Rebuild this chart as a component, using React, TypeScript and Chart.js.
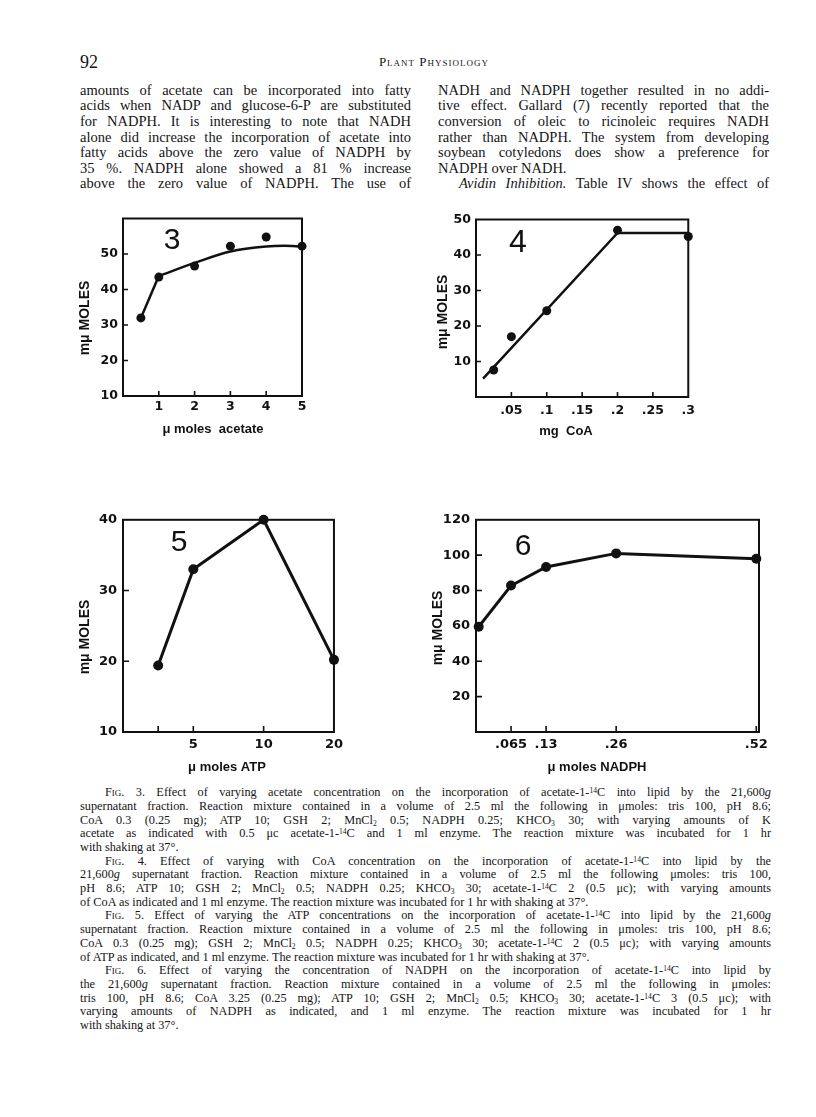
import React, { useEffect, useRef } from "react";
import { Chart, registerables } from "chart.js";

Chart.register(...registerables);

// ---------- Fig. 3 : acetate ----------
const acetateAmounts = [0.5, 1, 2, 3, 4, 5];
const acetateMuMoles = [32, 43.5, 46.6, 52.2, 54.8, 52.2];
const acetateSegX = [0.5, 1];
const acetateSegY = [32, 43.8];
const acetateCurveX = [1, 2, 3, 4, 4.5, 5];
const acetateCurveY = [43.8, 47.5, 50.7, 52.1, 52.3, 52.1];
const acetateXTicks = [1, 2, 3, 4, 5];
const acetateXLabels = ["1", "2", "3", "4", "5"];
const acetateYTicks = [10, 20, 30, 40, 50];
const acetateYLabels = ["10", "20", "30", "40", "50"];

// ---------- Fig. 4 : CoA ----------
const coaAmounts = [0.025, 0.05, 0.1, 0.2, 0.3];
const coaMuMoles = [7.6, 17, 24.3, 47, 45.2];
const coaFitX = [0.01, 0.2, 0.3];
const coaFitY = [5.2, 46.2, 46.2];
const coaXTicks = [0.05, 0.1, 0.15, 0.2, 0.25, 0.3];
const coaXLabels = [".05", ".1", ".15", ".2", ".25", ".3"];
const coaYTicks = [10, 20, 30, 40, 50];
const coaYLabels = ["10", "20", "30", "40", "50"];

// ---------- Fig. 5 : ATP (hand-drawn, non-linear axis positions) ----------
const atpAxisPos = [1, 2, 4, 6];
const atpTickLabels = ["", "5", "10", "20"];
const atpMuMoles = [19.4, 33, 40, 20.2];
const atpYTicks = [10, 20, 30, 40];
const atpYLabels = ["10", "20", "30", "40"];

// ---------- Fig. 6 : NADPH ----------
const nadphAmounts = [0.005, 0.065, 0.13, 0.26, 0.52];
const nadphMuMoles = [59.5, 82.8, 93.3, 101, 98];
const nadphXTicks = [0.065, 0.13, 0.26, 0.52];
const nadphXLabels = [".065", ".13", ".26", ".52"];
const nadphYTicks = [20, 40, 60, 80, 100, 120];
const nadphYLabels = ["20", "40", "60", "80", "100", "120"];

const INK = "#111";

type Txt = { text: string; x: number; y: number; font: string; rotate?: boolean };
type PanelCfg = {
  left: number; top: number; width: number; height: number;
  yAxisW: number; xAxisH: number; padTop: number; padRight: number;
  xMin: number; xMax: number; yMin: number; yMax: number;
  xTicks: number[]; xLabels: string[]; yTicks: number[]; yLabels: string[];
  xPad: number; yPad: number; tickWeight: string; tickSize: number;
  datasets: any[]; texts: Txt[]; tickLen: number; lineFrame: number;
};

function makeFramePlugin(cfg: PanelCfg) {
  return {
    id: "frameAndLabels",
    afterDatasetsDraw(chart: any) {
      const { ctx, chartArea: a } = chart;
      ctx.save();
      ctx.strokeStyle = INK;
      ctx.lineWidth = cfg.lineFrame;
      ctx.strokeRect(a.left, a.top, a.right - a.left, a.bottom - a.top);
      ctx.lineWidth = 1.6;
      ctx.beginPath();
      const xs = chart.scales.x;
      const ys = chart.scales.y;
      xs.ticks.forEach((t: any) => {
        const p = xs.getPixelForValue(t.value);
        if (p <= a.left + 1 || p >= a.right - 1) return;
        ctx.moveTo(p, a.bottom);
        ctx.lineTo(p, a.bottom - cfg.tickLen);
      });
      ys.ticks.forEach((t: any) => {
        const p = ys.getPixelForValue(t.value);
        if (p <= a.top + 1 || p >= a.bottom - 1) return;
        ctx.moveTo(a.left, p);
        ctx.lineTo(a.left + cfg.tickLen, p);
      });
      ctx.stroke();
      cfg.texts.forEach((t) => {
        ctx.save();
        ctx.fillStyle = INK;
        ctx.font = t.font;
        ctx.textAlign = "center";
        ctx.textBaseline = "middle";
        ctx.translate(t.x - cfg.left, t.y - cfg.top);
        if (t.rotate) ctx.rotate(-Math.PI / 2);
        ctx.fillText(t.text, 0, 0);
        ctx.restore();
      });
      ctx.restore();
    },
  };
}

function Panel({ cfg }: { cfg: PanelCfg }) {
  const ref = useRef<HTMLCanvasElement>(null);
  useEffect(() => {
    const tickFont = { family: "DejaVu Sans", size: cfg.tickSize, weight: cfg.tickWeight as any };
    const chart = new Chart(ref.current as HTMLCanvasElement, {
      type: "scatter",
      data: { datasets: cfg.datasets },
      options: {
        animation: false,
        responsive: false,
        devicePixelRatio: 1,
        layout: { padding: { top: cfg.padTop, right: cfg.padRight, left: 0, bottom: 0 } },
        plugins: { legend: { display: false }, tooltip: { enabled: false } },
        scales: {
          x: {
            type: "linear",
            min: cfg.xMin,
            max: cfg.xMax,
            grid: { display: false, drawTicks: false },
            border: { display: false },
            afterBuildTicks: (s: any) => {
              s.ticks = cfg.xTicks.map((v) => ({ value: v }));
            },
            afterFit: (s: any) => {
              s.height = cfg.xAxisH;
            },
            ticks: {
              padding: cfg.xPad,
              color: INK,
              font: tickFont,
              maxRotation: 0,
              autoSkip: false,
              callback: (_v: any, i: number) => cfg.xLabels[i],
            },
          },
          y: {
            type: "linear",
            min: cfg.yMin,
            max: cfg.yMax,
            grid: { display: false, drawTicks: false },
            border: { display: false },
            afterBuildTicks: (s: any) => {
              s.ticks = cfg.yTicks.map((v) => ({ value: v }));
            },
            afterFit: (s: any) => {
              s.width = cfg.yAxisW;
            },
            ticks: {
              padding: cfg.yPad,
              color: INK,
              font: tickFont,
              autoSkip: false,
              callback: (_v: any, i: number) => cfg.yLabels[i],
            },
          },
        },
      } as any,
      plugins: [makeFramePlugin(cfg)],
    });
    return () => chart.destroy();
  }, []);
  return (
    <canvas
      ref={ref}
      width={cfg.width}
      height={cfg.height}
      style={{ position: "absolute", left: cfg.left, top: cfg.top, width: cfg.width, height: cfg.height }}
    />
  );
}

const pts = (xs: number[], ys: number[]) => xs.map((x, i) => ({ x, y: ys[i] }));

const dotSet = (xs: number[], ys: number[], r: number) => ({
  data: pts(xs, ys),
  showLine: false,
  pointRadius: r,
  pointBackgroundColor: INK,
  pointBorderWidth: 0,
  clip: false,
});
const lineSet = (xs: number[], ys: number[], w: number, mono = false) => ({
  data: pts(xs, ys),
  showLine: true,
  borderColor: INK,
  borderWidth: w,
  pointRadius: 0,
  cubicInterpolationMode: mono ? "monotone" : "default",
  clip: false,
});
const lineDotSet = (xs: number[], ys: number[], w: number, r: number) => ({
  data: pts(xs, ys),
  showLine: true,
  borderColor: INK,
  borderWidth: w,
  pointRadius: r,
  pointBackgroundColor: INK,
  pointBorderWidth: 0,
  clip: false,
});

const TITLE = "bold 13px 'Liberation Sans'";
const YTITLE = "bold 14px 'Liberation Sans'";
const BIG = "30px 'Liberation Sans'";

const fig3: PanelCfg = {
  left: 70, top: 206, width: 244, height: 234,
  yAxisW: 53, xAxisH: 44, padTop: 12, padRight: 12,
  xMin: 0, xMax: 5, yMin: 10, yMax: 60,
  xTicks: acetateXTicks, xLabels: acetateXLabels, yTicks: acetateYTicks, yLabels: acetateYLabels,
  xPad: 3, yPad: 5, tickWeight: "bold", tickSize: 12.5, tickLen: 5, lineFrame: 2,
  datasets: [
    lineSet(acetateSegX, acetateSegY, 2.5),
    lineSet(acetateCurveX, acetateCurveY, 2.5, true),
    dotSet(acetateAmounts, acetateMuMoles, 4.5),
  ],
  texts: [
    { text: "3", x: 172, y: 241, font: BIG },
    { text: "\u03bc moles  acetate", x: 213, y: 429, font: TITLE },
    { text: "m\u03bc MOLES", x: 85, y: 318, font: YTITLE, rotate: true },
  ],
};

const fig4: PanelCfg = {
  left: 430, top: 207, width: 271, height: 236,
  yAxisW: 46, xAxisH: 46, padTop: 12, padRight: 12,
  xMin: 0, xMax: 0.3, yMin: 0, yMax: 50,
  xTicks: coaXTicks, xLabels: coaXLabels, yTicks: coaYTicks, yLabels: coaYLabels,
  xPad: 6, yPad: 5, tickWeight: "bold", tickSize: 12.5, tickLen: 5, lineFrame: 2,
  datasets: [lineSet(coaFitX, coaFitY, 2.5), dotSet(coaAmounts, coaMuMoles, 4.5)],
  texts: [
    { text: "4", x: 518, y: 243, font: "32px 'Liberation Sans'" },
    { text: "mg  CoA", x: 566, y: 431, font: TITLE },
    { text: "m\u03bc MOLES", x: 443, y: 312, font: YTITLE, rotate: true },
  ],
};

const fig5: PanelCfg = {
  left: 70, top: 506, width: 278, height: 272,
  yAxisW: 53, xAxisH: 46, padTop: 12, padRight: 12,
  xMin: 0, xMax: 6, yMin: 10, yMax: 40,
  xTicks: atpAxisPos, xLabels: atpTickLabels, yTicks: atpYTicks, yLabels: atpYLabels,
  xPad: 5, yPad: 6, tickWeight: "bold", tickSize: 13, tickLen: 6, lineFrame: 2,
  datasets: [lineDotSet(atpAxisPos, atpMuMoles, 3, 5)],
  texts: [
    { text: "5", x: 179, y: 543, font: BIG },
    { text: "\u03bc moles ATP", x: 227, y: 767, font: TITLE },
    { text: "m\u03bc MOLES", x: 85, y: 637, font: YTITLE, rotate: true },
  ],
};

const fig6: PanelCfg = {
  left: 430, top: 506, width: 343, height: 272,
  yAxisW: 46, xAxisH: 46, padTop: 12, padRight: 14,
  xMin: 0, xMax: 0.525, yMin: 0, yMax: 120,
  xTicks: nadphXTicks, xLabels: nadphXLabels, yTicks: nadphYTicks, yLabels: nadphYLabels,
  xPad: 5, yPad: 6, tickWeight: "bold", tickSize: 13, tickLen: 6, lineFrame: 2,
  datasets: [lineDotSet(nadphAmounts, nadphMuMoles, 3, 5)],
  texts: [
    { text: "6", x: 523, y: 547, font: BIG },
    { text: "\u03bc moles NADPH", x: 597, y: 767, font: TITLE },
    { text: "m\u03bc MOLES", x: 438, y: 628, font: YTITLE, rotate: true },
  ],
};

// ---------- page text ----------
const sup: React.CSSProperties = { fontSize: "0.62em", verticalAlign: "0.45em", lineHeight: 0 };
const sub: React.CSSProperties = { fontSize: "0.62em", verticalAlign: "-0.2em", lineHeight: 0 };
const C14 = (
  <>
    <sup style={sup}>14</sup>C
  </>
);
const Two = <sub style={sub}>2</sub>;
const Three = <sub style={sub}>3</sub>;
const G = <i>g</i>;
const Fig = (n: string) => (
  <>
    <span style={{ fontVariant: "small-caps" }}>Fig</span>. {n}.
  </>
);

const leftCol: React.ReactNode[] = [
  "amounts of acetate can be incorporated into fatty",
  "acids when NADP and glucose-6-P are substituted",
  "for NADPH.  It is interesting to note that NADH",
  "alone did increase the incorporation of acetate into",
  "fatty acids above the zero value of NADPH by",
  "35 %.  NADPH alone showed a 81 % increase",
  "above the zero value of NADPH.  The use of",
];
const rightCol: { c: React.ReactNode; last?: boolean; indent?: boolean }[] = [
  { c: "NADH and NADPH together resulted in no addi-" },
  { c: "tive effect.  Gallard (7) recently reported that the" },
  { c: "conversion of oleic to ricinoleic requires NADH" },
  { c: "rather than NADPH.  The system from developing" },
  { c: "soybean cotyledons does show a preference for" },
  { c: "NADPH over NADH.", last: true },
  { c: <><i>Avidin Inhibition.</i>  Table IV shows the effect of</>, indent: true },
];

const captionLines: { c: React.ReactNode; last?: boolean; indent?: boolean }[] = [
  { c: <>{Fig("3")}  Effect of varying acetate concentration on the incorporation of acetate-1-{C14} into lipid by the 21,600{G}</>, indent: true },
  { c: <>supernatant fraction.  Reaction mixture contained in a volume of 2.5 ml the following in {"\u03bc"}moles: tris 100, pH 8.6;</> },
  { c: <>CoA 0.3 (0.25 mg); ATP 10; GSH 2; MnCl{Two} 0.5; NADPH 0.25; KHCO{Three} 30; with varying amounts of K</> },
  { c: <>acetate as indicated with 0.5 {"\u03bc"}c acetate-1-{C14} and 1 ml enzyme.  The reaction mixture was incubated for 1 hr</> },
  { c: <>with shaking at 37°.</>, last: true },
  { c: <>{Fig("4")}  Effect of varying with CoA concentration on the incorporation of acetate-1-{C14} into lipid by the</>, indent: true },
  { c: <>21,600{G} supernatant fraction.  Reaction mixture contained in a volume of 2.5 ml the following {"\u03bc"}moles: tris 100,</> },
  { c: <>pH 8.6; ATP 10; GSH 2; MnCl{Two} 0.5; NADPH 0.25; KHCO{Three} 30; acetate-1-{C14} 2 (0.5 {"\u03bc"}c); with varying amounts</> },
  { c: <>of CoA as indicated and 1 ml enzyme.  The reaction mixture was incubated for 1 hr with shaking at 37°.</>, last: true },
  { c: <>{Fig("5")}  Effect of varying the ATP concentrations on the incorporation of acetate-1-{C14} into lipid by the 21,600{G}</>, indent: true },
  { c: <>supernatant fraction.  Reaction mixture contained in a volume of 2.5 ml the following in {"\u03bc"}moles: tris 100, pH 8.6;</> },
  { c: <>CoA 0.3 (0.25 mg); GSH 2; MnCl{Two} 0.5; NADPH 0.25; KHCO{Three} 30; acetate-1-{C14} 2 (0.5 {"\u03bc"}c); with varying amounts</> },
  { c: <>of ATP as indicated, and 1 ml enzyme.  The reaction mixture was incubated for 1 hr with shaking at 37°.</>, last: true },
  { c: <>{Fig("6")}  Effect of varying the concentration of NADPH on the incorporation of acetate-1-{C14} into lipid by</>, indent: true },
  { c: <>the 21,600{G} supernatant fraction.  Reaction mixture contained in a volume of 2.5 ml the following in {"\u03bc"}moles:</> },
  { c: <>tris 100, pH 8.6; CoA 3.25 (0.25 mg); ATP 10; GSH 2; MnCl{Two} 0.5; KHCO{Three} 30; acetate-1-{C14} 3 (0.5 {"\u03bc"}c); with</> },
  { c: <>varying amounts of NADPH as indicated, and 1 ml enzyme.  The reaction mixture was incubated for 1 hr</> },
  { c: <>with shaking at 37°.</>, last: true },
];

const SERIF = "'Liberation Serif', 'DejaVu Serif', serif";

function Line({
  x, y, w, lh, size, children, last, indent,
}: {
  x: number; y: number; w: number; lh: number; size: number; children: React.ReactNode; last?: boolean; indent?: number;
}) {
  return (
    <div
      style={{
        position: "absolute",
        left: x + (indent || 0),
        top: y - lh / 2,
        width: w - (indent || 0),
        height: lh,
        lineHeight: lh + "px",
        fontSize: size,
        fontFamily: SERIF,
        color: "#151515",
        textAlign: "justify",
        textAlignLast: last ? "left" : "justify",
        whiteSpace: "normal",
        overflow: "visible",
      }}
    >
      {children}
    </div>
  );
}

export default function App() {
  const bodyTop = 90.7;
  const bodyStep = 15.55;
  const capTop = 793;
  const capStep = 13.7;
  return (
    <div
      style={{
        position: "absolute",
        left: 0,
        top: 0,
        width: 816,
        height: 1117,
        background: "#fff",
        overflow: "hidden",
      }}
    >
      <div style={{ position: "absolute", left: 80, top: 52, fontFamily: SERIF, fontSize: 18, lineHeight: "20px", color: "#151515" }}>
        92
      </div>
      <div
        style={{
          position: "absolute",
          left: 334,
          width: 200,
          top: 53,
          textAlign: "center",
          fontFamily: SERIF,
          fontSize: 13,
          lineHeight: "18px",
          letterSpacing: "1px",
          fontVariant: "small-caps",
          color: "#151515",
        }}
      >
        Plant Physiology
      </div>
      {leftCol.map((c, i) => (
        <Line key={"l" + i} x={80} y={bodyTop + i * bodyStep} w={331} lh={bodyStep} size={14.5}>
          {c}
        </Line>
      ))}
      {rightCol.map((r, i) => (
        <Line key={"r" + i} x={438} y={bodyTop + i * bodyStep} w={331} lh={bodyStep} size={14.5} last={r.last} indent={r.indent ? 21 : 0}>
          {r.c}
        </Line>
      ))}
      <Panel cfg={fig3} />
      <Panel cfg={fig4} />
      <Panel cfg={fig5} />
      <Panel cfg={fig6} />
      {captionLines.map((r, i) => (
        <Line key={"c" + i} x={80} y={capTop + i * capStep} w={691} lh={capStep} size={12.3} last={r.last} indent={r.indent ? 25 : 0}>
          {r.c}
        </Line>
      ))}
    </div>
  );
}
